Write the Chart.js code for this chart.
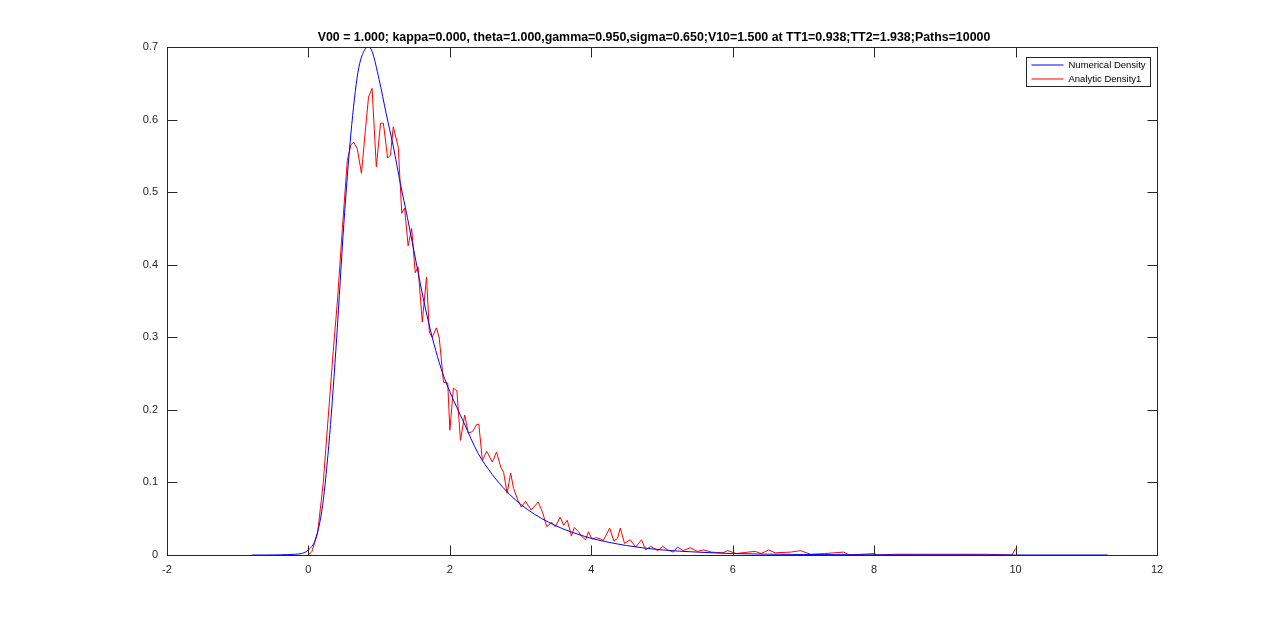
<!DOCTYPE html>
<html>
<head>
<meta charset="utf-8">
<script src="https://cdn.jsdelivr.net/npm/chart.js@4/dist/chart.umd.min.js"></script>
<style>
  html, body { margin: 0; padding: 0; background: #fff; }
  #wrap { width: 1280px; height: 624px; position: relative; }
</style>
</head>
<body>
<div id="wrap"><canvas id="density-chart"></canvas></div>
<script>
var chartTitle = 'V00 = 1.000; kappa=0.000, theta=1.000,gamma=0.950,sigma=0.650;V10=1.500 at TT1=0.938;TT2=1.938;Paths=10000';
var seriesNames = ['Numerical Density', 'Analytic Density1'];
var seriesColors = ['#0000ff', '#ff0000'];

// x ticks and y ticks
var xTicks = [-2, 0, 2, 4, 6, 8, 10, 12];
var yTicks = [0, 0.1, 0.2, 0.3, 0.4, 0.5, 0.6, 0.7];

// numerical density (blue)
var numX = [-0.8, -0.6, -0.4, -0.2, -0.1, 0, 0.1, 0.2, 0.3, 0.4, 0.5, 0.6, 0.7, 0.8, 0.85, 0.9, 1.0, 1.1, 1.2, 1.3, 1.4, 1.5, 1.6, 1.7, 1.8, 1.9, 2.0, 2.2, 2.4, 2.6, 2.8, 3.0, 3.2, 3.4, 3.6, 3.8, 4.0, 4.5, 5.0, 5.5, 6.0, 7.0, 8.0, 9.0, 10.0, 11.3];
var numY = [0, 0, 0.0002, 0.001, 0.002, 0.007, 0.022, 0.068, 0.165, 0.30, 0.455, 0.58, 0.665, 0.697, 0.700, 0.694, 0.655, 0.608, 0.563, 0.512, 0.465, 0.415, 0.365, 0.32, 0.282, 0.25, 0.225, 0.182, 0.14, 0.111, 0.088, 0.07, 0.056, 0.045, 0.036, 0.029, 0.023, 0.013, 0.007, 0.004, 0.002, 0.0007, 0.0002, 0.0001, 0, 0];

// analytic density (red)
var anaX = [0.0, 0.05, 0.13, 0.21, 0.28, 0.35, 0.41, 0.48, 0.55, 0.6, 0.64, 0.69, 0.75, 0.8, 0.85, 0.9, 0.96, 1.02, 1.06, 1.12, 1.16, 1.2, 1.27, 1.32, 1.36, 1.41, 1.46, 1.51, 1.55, 1.61, 1.67, 1.71, 1.75, 1.81, 1.85, 1.91, 1.97, 2.0, 2.05, 2.1, 2.15, 2.21, 2.26, 2.32, 2.38, 2.41, 2.46, 2.52, 2.6, 2.66, 2.72, 2.76, 2.81, 2.86, 2.9, 2.96, 3.01, 3.07, 3.15, 3.25, 3.31, 3.37, 3.44, 3.49, 3.56, 3.61, 3.66, 3.72, 3.76, 3.82, 3.87, 3.92, 3.96, 4.01, 4.07, 4.13, 4.17, 4.26, 4.32, 4.37, 4.41, 4.47, 4.55, 4.63, 4.71, 4.77, 4.84, 4.94, 5.01, 5.08, 5.16, 5.22, 5.3, 5.4, 5.5, 5.59, 5.7, 5.86, 5.93, 6.05, 6.22, 6.32, 6.4, 6.51, 6.6, 6.82, 6.96, 7.1, 7.3, 7.57, 7.65, 8.0, 8.05, 8.3, 8.6, 9.0, 9.5, 9.6, 9.95, 10.0];
var anaY = [0, 0.005, 0.03, 0.10, 0.19, 0.28, 0.35, 0.45, 0.544, 0.565, 0.569, 0.56, 0.526, 0.58, 0.631, 0.643, 0.535, 0.595, 0.595, 0.547, 0.551, 0.59, 0.562, 0.471, 0.478, 0.426, 0.45, 0.389, 0.397, 0.321, 0.383, 0.307, 0.30, 0.313, 0.299, 0.238, 0.237, 0.172, 0.23, 0.226, 0.158, 0.193, 0.168, 0.17, 0.18, 0.18, 0.13, 0.143, 0.128, 0.142, 0.121, 0.114, 0.085, 0.113, 0.092, 0.076, 0.066, 0.074, 0.062, 0.073, 0.059, 0.039, 0.045, 0.039, 0.052, 0.041, 0.048, 0.026, 0.038, 0.032, 0.025, 0.021, 0.032, 0.022, 0.024, 0.022, 0.02, 0.037, 0.019, 0.023, 0.037, 0.016, 0.021, 0.011, 0.021, 0.007, 0.012, 0.006, 0.012, 0.007, 0.004, 0.011, 0.006, 0.01, 0.005, 0.007, 0.004, 0.003, 0.006, 0.002, 0.004, 0.005, 0.002, 0.007, 0.003, 0.004, 0.006, 0.001, 0.002, 0.004, 0, 0.002, 0, 0.001, 0.001, 0.001, 0.001, 0.001, 0, 0.009];

function toPoints(xs, ys) {
    var pts = [];
    for (var i = 0; i < xs.length; i++) pts.push({ x: xs[i], y: ys[i] });
    return pts;
}

var axisColor = '#262626';

// MATLAB style box, inward ticks, title and legend
var matlabDecor = {
    id: 'matlabDecor',
    afterDraw: function(chart) {
        var ctx = chart.ctx;
        var a = chart.chartArea;
        var xs = chart.scales.x, ys = chart.scales.y;
        var L = Math.round(a.left) + 0.5, R = Math.round(a.right) + 0.5;
        var T = Math.round(a.top) + 0.5, B = Math.round(a.bottom) + 0.5;
        ctx.save();
        ctx.strokeStyle = axisColor;
        ctx.lineWidth = 1;
        ctx.strokeRect(L, T, R - L, B - T);
        ctx.beginPath();
        for (var i = 0; i < xTicks.length; i++) {
            var px = Math.round(xs.getPixelForValue(xTicks[i])) + 0.5;
            ctx.moveTo(px, B); ctx.lineTo(px, B - 10);
            ctx.moveTo(px, T); ctx.lineTo(px, T + 10);
        }
        for (var j = 0; j < yTicks.length; j++) {
            var py = Math.round(ys.getPixelForValue(yTicks[j])) + 0.5;
            ctx.moveTo(L, py); ctx.lineTo(L + 10, py);
            ctx.moveTo(R, py); ctx.lineTo(R - 10, py);
        }
        ctx.stroke();

        // title
        ctx.fillStyle = '#000';
        ctx.font = 'bold 12.4px "Liberation Sans", Arial, sans-serif';
        ctx.textAlign = 'center';
        ctx.textBaseline = 'alphabetic';
        ctx.fillText(chartTitle, 654, 41);

        // legend
        var bx = 1026.5, by = 57.5, bw = 124, bh = 29;
        ctx.fillStyle = '#fff';
        ctx.fillRect(bx, by, bw, bh);
        ctx.strokeStyle = axisColor;
        ctx.strokeRect(bx, by, bw, bh);
        ctx.font = '9.5px "Liberation Sans", Arial, sans-serif';
        ctx.textAlign = 'left';
        ctx.textBaseline = 'middle';
        for (var k = 0; k < seriesNames.length; k++) {
            var ly = Math.round(by + 7 + k * 14);
            ctx.strokeStyle = seriesColors[k];
            ctx.lineWidth = 1.2;
            ctx.beginPath();
            ctx.moveTo(bx + 5, ly);
            ctx.lineTo(bx + 37, ly);
            ctx.stroke();
            ctx.fillStyle = '#000';
            ctx.fillText(seriesNames[k], bx + 42, ly + 0.5);
        }
        ctx.restore();
    }
};

new Chart(document.getElementById('density-chart'), {
    type: 'line',
    data: {
        datasets: [{
            label: seriesNames[0],
            data: toPoints(numX, numY),
            borderColor: seriesColors[0],
            borderWidth: 1,
            pointRadius: 0,
            cubicInterpolationMode: 'monotone',
            fill: false
        }, {
            label: seriesNames[1],
            data: toPoints(anaX, anaY),
            borderColor: seriesColors[1],
            borderWidth: 1,
            pointRadius: 0,
            tension: 0,
            fill: false
        }]
    },
    options: {
        responsive: true,
        maintainAspectRatio: false,
        animation: false,
        layout: { padding: { top: 47, right: 123, left: 0, bottom: 0 } },
        plugins: {
            legend: { display: false },
            tooltip: { enabled: false },
            title: { display: false }
        },
        scales: {
            x: {
                type: 'linear',
                min: -2,
                max: 12,
                afterFit: function(s) { s.height = 69; },
                afterBuildTicks: function(s) { s.ticks = xTicks.map(function(v) { return { value: v }; }); },
                grid: { display: false, drawTicks: false },
                border: { display: false },
                ticks: {
                    color: axisColor,
                    padding: 8,
                    maxRotation: 0,
                    font: { family: '"Liberation Sans", Arial, sans-serif', size: 11 },
                    callback: function(v) { return String(v); }
                }
            },
            y: {
                type: 'linear',
                min: 0,
                max: 0.7,
                afterFit: function(s) { s.width = 167; },
                afterBuildTicks: function(s) { s.ticks = yTicks.map(function(v) { return { value: v }; }); },
                grid: { display: false, drawTicks: false },
                border: { display: false },
                ticks: {
                    color: axisColor,
                    padding: 9,
                    font: { family: '"Liberation Sans", Arial, sans-serif', size: 11 },
                    callback: function(v) { return String(Math.round(v * 10) / 10); }
                }
            }
        }
    },
    plugins: [matlabDecor]
});
</script>
</body>
</html>
